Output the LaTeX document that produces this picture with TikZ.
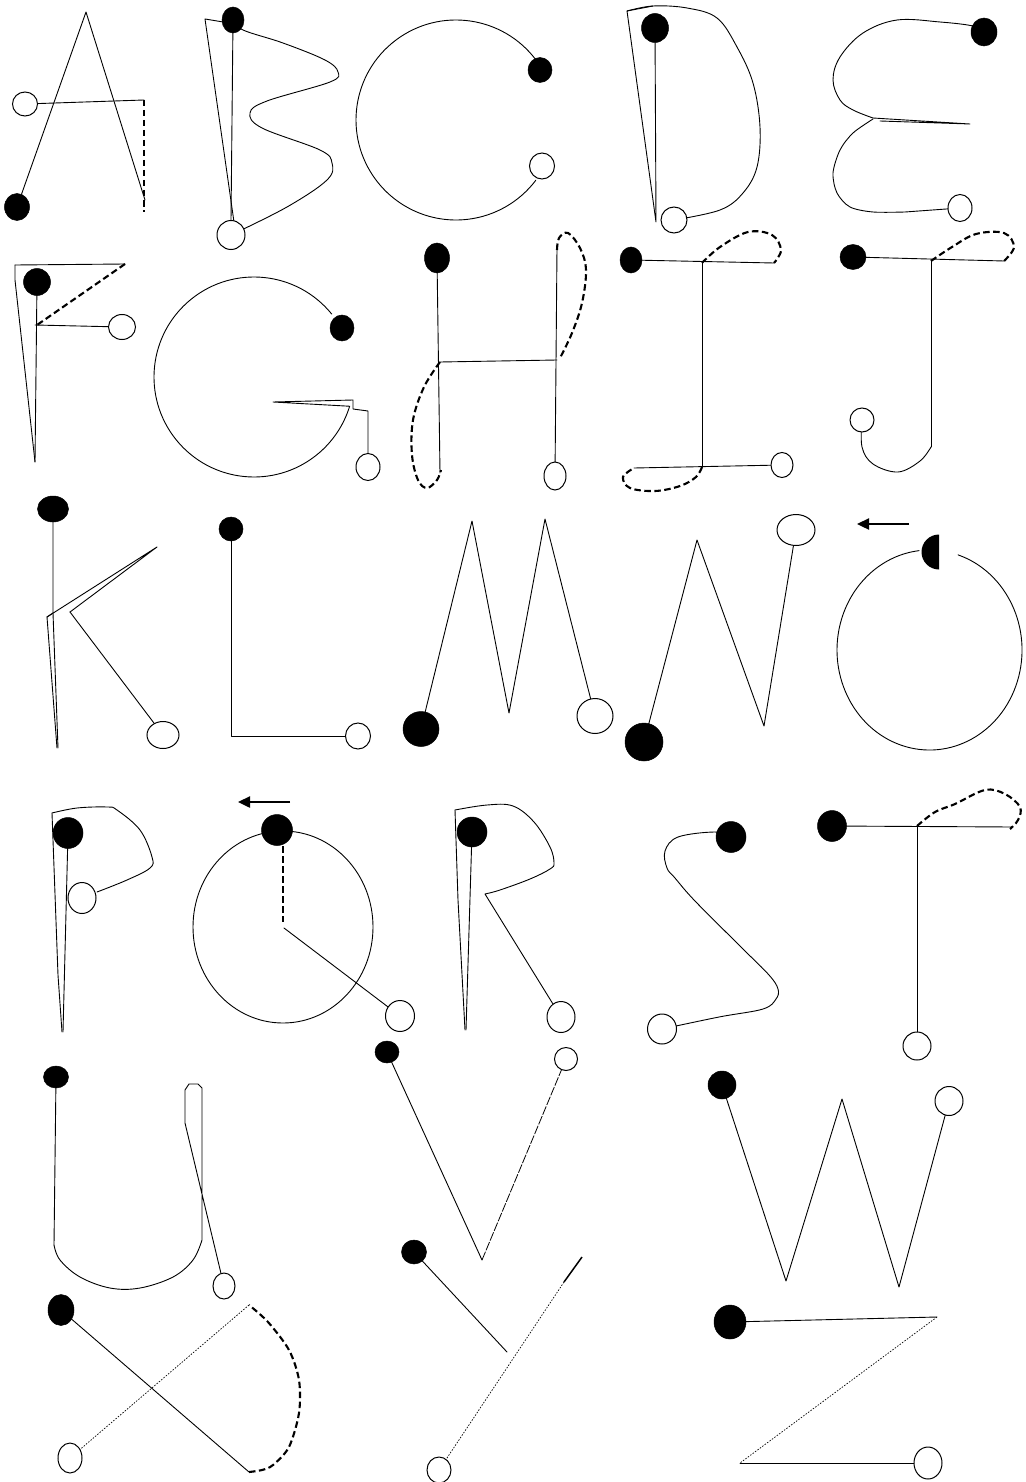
\documentclass[tikz,border=0pt]{standalone}
\usetikzlibrary{shapes.geometric,arrows.meta}
\pgfdeclarelayer{bg}
\pgfdeclarelayer{ink}
\pgfsetlayers{bg,ink,main}
\begin{document}
\begin{tikzpicture}[x=1pt,y=-1pt,
 pen/.style={line width=0.9pt,line join=round,line cap=round},
 thickdash/.style={line width=2.1pt,dash pattern=on 6.5pt off 3.5pt},
 dotpen/.style={line width=0.7pt,dash pattern=on 1.5pt off 1.5pt},
 brokenpen/.style={line width=0.8pt,dash pattern=on 9pt off 1.5pt},
 fdot/.style={ellipse,fill=black,draw=black,line width=0.5pt,inner sep=0pt,outer sep=0pt},
 odot/.style={ellipse,fill=white,draw=black,line width=1pt,inner sep=0pt,outer sep=0pt},
 sz/.style 2 args={minimum width=#1pt,minimum height=#2pt},
 arrowpen/.style={line width=2.4pt,-{Triangle[length=12pt,width=11pt]}}]
\useasboundingbox (0,0) rectangle (1025,1482);
\begin{pgfonlayer}{bg}
\fill[white] (0,0) rectangle (1025,1482);
\end{pgfonlayer}

% ---------- start (filled) and end (open) dots ----------
\node[fdot,sz={25}{27}] (As) at (17,207) {};
\node[odot,sz={25}{24}] (Ae) at (25,104) {};
\node[fdot,sz={22}{26}] (Bs) at (233,20) {};
\node[odot,sz={28}{29}] (Be) at (231,235) {};
\node[fdot,sz={24}{25}] (Cs) at (540,70) {};
\node[odot,sz={25}{26}] (Ce) at (542,166) {};
\node[fdot,sz={27}{29}] (Ds) at (655,28) {};
\node[odot,sz={26}{26}] (De) at (674,220) {};
\node[fdot,sz={26}{28}] (Es) at (984,32) {};
\node[odot,sz={24}{27}] (Ee) at (960,208) {};
\node[fdot,sz={27}{27}] (Fs) at (37,282) {};
\node[odot,sz={27}{25}] (Fe) at (122,327) {};
\node[fdot,sz={24}{26}] (Gs) at (342,328) {};
\node[odot,sz={24}{27}] (Ge) at (368,467) {};
\node[fdot,sz={25}{30}] (Hs) at (437,258) {};
\node[odot,sz={22}{28}] (He) at (555,476) {};
\node[fdot,sz={22}{26}] (Is) at (631,260) {};
\node[odot,sz={22}{25}] (Ie) at (782,465) {};
\node[fdot,sz={26}{25}] (Js) at (853,257) {};
\node[odot,sz={24}{24}] (Je) at (862,420) {};
\node[fdot,sz={31}{26}] (Ks) at (53,509) {};
\node[odot,sz={32}{27}] (Ke) at (163,735) {};
\node[fdot,sz={24}{24}] (Ls) at (231,529) {};
\node[odot,sz={25}{26}] (Le) at (358,736) {};
\node[fdot,sz={36}{35}] (Ms) at (421,729) {};
\node[odot,sz={36}{35}] (Me) at (595,716) {};
\node[fdot,sz={38}{38}] (Ns) at (644,742) {};
\node[odot,sz={38}{31}] (Ne) at (796,530) {};
\node[fdot,sz={30}{31}] (Ps) at (68,833) {};
\node[odot,sz={28}{31}] (Pe) at (82,898) {};
\node[fdot,sz={31}{31}] (Qs) at (277,830) {};
\node[odot,sz={29}{31}] (Qe) at (400,1016) {};
\node[fdot,sz={30}{30}] (Rs) at (472,832) {};
\node[odot,sz={28}{31}] (Re) at (561,1017) {};
\node[fdot,sz={30}{31}] (Ss) at (731,837) {};
\node[odot,sz={29}{30}] (Se) at (662,1029) {};
\node[fdot,sz={29}{31}] (Ts) at (832,826) {};
\node[odot,sz={28}{28}] (Te) at (917,1046) {};
\node[fdot,sz={25}{22}] (Us) at (56,1077) {};
\node[odot,sz={22}{26}] (Ue) at (224,1286) {};
\node[fdot,sz={24}{22}] (Vs) at (387,1052) {};
\node[odot,sz={23}{23}] (Ve) at (566,1059) {};
\node[fdot,sz={28}{28}] (Ws) at (722,1085) {};
\node[odot,sz={28}{29}] (We) at (949,1101) {};
\node[fdot,sz={26}{31}] (Xs) at (61,1310) {};
\node[odot,sz={24}{30}] (Xe) at (70,1458) {};
\node[fdot,sz={25}{24}] (Ys) at (414,1252) {};
\node[odot,sz={24}{26}] (Ye) at (439,1470) {};
\node[fdot,sz={32}{34}] (Zs) at (730,1322) {};
\node[odot,sz={28}{32}] (Ze) at (928,1463) {};
% O: half filled start dot
\fill (939,534.5) arc[start angle=-90,end angle=-270,radius=17.5] -- cycle;

% arrow tails
\coordinate (Oa1) at (909,524); \coordinate (Oa2) at (857,524);
\coordinate (Qa1) at (290,802); \coordinate (Qa2) at (238,802);

\begin{pgfonlayer}{ink}
% A
\draw[pen] (As) -- (86,12) -- (145,200);
\draw[pen] (Ae) -- (144,100);
\draw[thickdash] (144,100) -- (144,212);
% B
\draw[pen] (Bs) -- (Be.north);
\draw[pen] (223,22) -- (205,19) -- (234,222);
\draw[pen] plot[smooth,tension=0.6] coordinates {(Bs) (243,30) (283,43) (325,60) (338,72) (330,82) (267,101) (250,113) (262,128) (320,150) (332,163) (327,180) (287,207) (Be)};
% C
\draw[pen] (456,120) ++(-37:100) arc[start angle=-37,end angle=-323,radius=100];
% D
\draw[pen] (Ds) -- (656,222) -- (627,11) -- (653,6);
\draw[pen] plot[smooth,tension=0.6] coordinates {(627,11) (653,6) (687,8) (717,18) (737,47) (753,83) (760,127) (757,167) (743,193) (720,210) (De)};
% E
\draw[pen] plot[smooth,tension=0.6] coordinates {(Es) (973,26) (940,22) (897,20) (863,33) (840,57) (833,80) (840,100) (853,110) (873,118)};
\draw[pen] (873,118) -- (970,124) -- (880,121);
\draw[pen] plot[smooth,tension=0.5] coordinates {(873,119) (853,133) (840,150) (833,173) (837,193) (850,207) (873,212) (905,212)} -- (Ee);
% F
\draw[pen] (15,265) -- (125,264);
\draw[thickdash] (125,264) -- (37,325);
\draw[pen] (15,265) -- (15,280) -- (35,462);
\draw[pen] (Fs) -- (35,462);
\draw[pen] (35,325) -- (Fe);
% G
\draw[pen] (254,377) ++(-39:100) arc[start angle=-39,end angle=-343,radius=100] -- (273,402) -- (353,400) -- (353,409) -- (368,411) -- (Ge);
% H
\draw[pen] (Hs) -- (440,473);
\draw[pen] (440,362) -- (557,360);
\draw[pen] (557,248) -- (He);
\draw[thickdash] plot[smooth,tension=0.6] coordinates {(440,362) (424,387) (413,420) (412,455) (418,480) (427,488) (437,480) (441,470)};
\draw[thickdash] plot[smooth,tension=0.6] coordinates {(557,250) (559,238) (568,233) (580,248) (586,270) (582,303) (572,333) (560,358)};
% I
\draw[pen] (Is) -- (774,263);
\draw[pen] (702,263) -- (702,467);
\draw[pen] (634,468) -- (Ie);
\draw[thickdash] plot[smooth,tension=0.6] coordinates {(702,263) (720,247) (748,232) (772,235) (781,250) (774,263)};
\draw[thickdash] plot[smooth,tension=0.6] coordinates {(702,467) (696,477) (680,486) (655,491) (630,488) (623,477) (634,468)};
% J
\draw[pen] (Js) -- (1004,261);
\draw[pen] (931,261) -- (931,447);
\draw[pen] plot[smooth,tension=0.6] coordinates {(931,447) (920,461) (898,472) (873,464) (862,447) (Je)};
\draw[thickdash] plot[smooth,tension=0.6] coordinates {(931,261) (952,247) (976,234) (1004,233) (1014,247) (1004,261)};
% K
\draw[pen] (Ks) -- (53,613) -- (58,748);
\draw[pen] (53,613) -- (47,617) -- (57,748);
\draw[pen] (47,617) -- (157,547) -- (70,612);
\draw[pen] (70,612) -- (Ke);
% L
\draw[pen] (Ls) -- (231,736) -- (Le);
% M
\draw[pen] (Ms) -- (472,521) -- (509,713) -- (545,519) -- (Me);
% N
\draw[pen] (Ns) -- (697,540) -- (764,726) -- (Ne);
% O
\draw[arrowpen] (Oa1) -- (Oa2);
\draw[pen] (958.1,554.9) arc[start angle=-72,end angle=263.5,x radius=92.5,y radius=100];
% P
\draw[pen] (62,1032) -- (58,975) -- (52,813);
\draw[pen] plot[smooth,tension=0.6] coordinates {(52,813) (77,808) (107,807) (117,810) (140,830) (152,857) (150,868) (127,880) (97,892)};
\draw[pen] (Ps) -- (63,1032);
% Q
\draw[arrowpen] (Qa1) -- (Qa2);
\draw[pen] (283,927) ellipse[x radius=90,y radius=96];
\draw[thickdash] (283,846) -- (283,922);
\draw[pen] (284,928) -- (Qe);
% R
\draw[pen] (465,1030) -- (458,900) -- (455,810);
\draw[pen] plot[smooth,tension=0.6] coordinates {(455,810) (487,805) (513,806) (534,822) (550,847) (554,863) (550,869) (530,879) (500,890) (485,894)} -- (Re);
\draw[pen] (Rs) -- (466,1030);
% S
\draw[pen] plot[smooth,tension=0.6] coordinates {(Ss) (715,832) (678,837) (665,851) (667,868) (675,878) (695,901) (742,948) (769,975) (778,989) (776,999) (763,1009) (719,1017) (Se)};
% T
\draw[pen] (Ts) -- (1013,827);
\draw[pen] (917,826) -- (Te);
\draw[thickdash] plot[smooth,tension=0.6] coordinates {(917,826) (935,812) (955,804) (985,790) (1005,794) (1020,807) (1018,820) (1010,829)};
% U
\draw[pen] (Us) -- (54,1245);
\draw[pen] plot[smooth,tension=0.6] coordinates {(54,1245) (60,1260) (80,1277) (110,1288) (140,1288) (173,1277) (193,1260) (202,1240)} -- (202,1088) -- (198,1084) -- (189,1084) -- (185,1090) -- (185,1123) -- (Ue);
% V
\draw[pen] (Vs) -- (482,1260);
\draw[brokenpen] (482,1260) -- (Ve);
% W
\draw[pen] (Ws) -- (786,1281) -- (842,1099) -- (899,1287) -- (We);
% X
\draw[pen] (Xs) -- (249,1472);
\draw[thickdash] plot[smooth,tension=0.5] coordinates {(249,1472) (262,1470) (273,1465) (289,1447) (299,1413) (299,1380) (289,1350) (268,1322) (249,1305)};
\draw[dotpen] (249,1305) -- (Xe);
% Y
\draw[pen] (Ys) -- (507,1352);
\draw[line width=1.5pt] (582,1257) -- (564,1282);
\draw[dotpen] (564,1282) -- (Ye);
% Z
\draw[pen] (Zs) -- (937,1317);
\draw[dotpen] (937,1317) -- (740,1463);
\draw[pen] (740,1463) -- (Ze);
\end{pgfonlayer}
\end{tikzpicture}
\end{document}
